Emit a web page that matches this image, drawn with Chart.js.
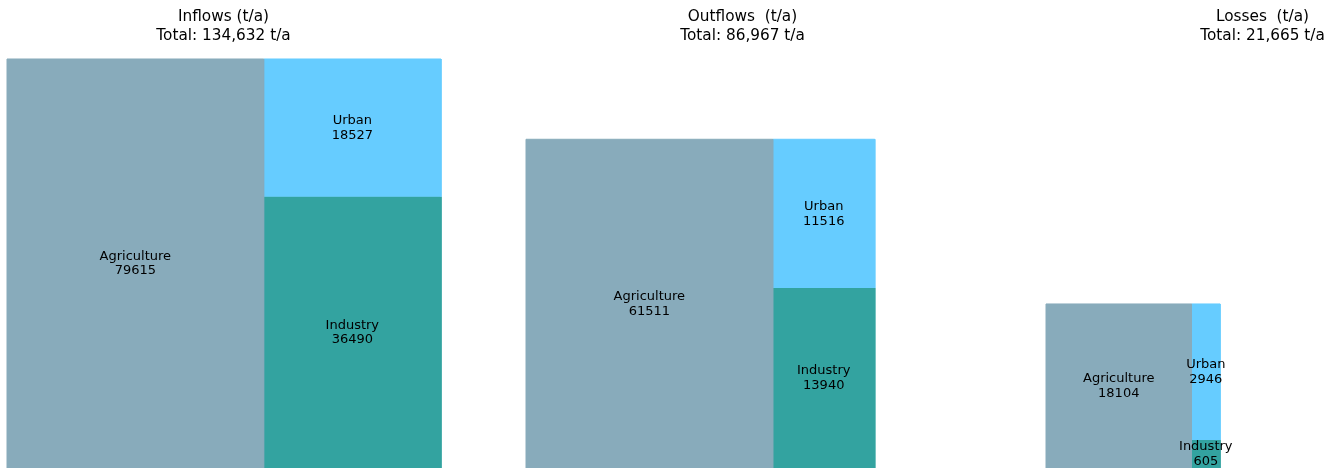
<!DOCTYPE html>
<html>
<head>
<meta charset="utf-8">
<script src="https://cdn.jsdelivr.net/npm/chart.js@4/dist/chart.umd.min.js"></script>
<style>
  html, body { margin: 0; padding: 0; background: #ffffff; }
  #wrap { width: 1337px; height: 468px; position: relative; }
</style>
</head>
<body>
<div id="wrap"><canvas id="c"></canvas></div>
<script>
// ---- data ----
const groups = ['Inflows', 'Outflows', 'Losses'];
const titleLines = ['Inflows (t/a)', 'Outflows  (t/a)', 'Losses  (t/a)'];
const totalLabels = ['Total: 134,632 t/a', 'Total: 86,967 t/a', 'Total: 21,665 t/a'];
const categories = ['Agriculture', 'Urban', 'Industry'];
const inflows = [79615, 18527, 36490];
const outflows = [61511, 11516, 13940];
const losses = [18104, 2946, 605];

// ---- styling / layout (not data) ----
const colors = ['#88abbb', '#66ccff', '#33a3a0'];
const groupValues = [inflows, outflows, losses];
const groupLeft = [7, 526, 1046];     // left edge of each treemap in axis units
const titleOffset = 216.5;            // title centre relative to left edge
const areaPerUnit = 1.31845;          // px^2 per t/a
const aspect = 1.0611;                // width / height of each treemap

// treemap layout: first category takes a full-height column,
// remaining categories stacked in a second column
const rects = [];
groupValues.forEach((vals, g) => {
  const total = vals.reduce((a, b) => a + b, 0);
  const H = Math.sqrt(total * areaPerUnit / aspect);
  const W = H * aspect;
  const x0 = groupLeft[g];
  const wA = W * vals[0] / total;
  rects.push({ g, i: 0, x0: x0, x1: x0 + wA, y0: 0, y1: H, v: vals[0] });
  const rest = vals.slice(1).reduce((a, b) => a + b, 0);
  let top = H;
  for (let i = 1; i < vals.length; i++) {
    const h = H * vals[i] / rest;
    rects.push({ g, i, x0: x0 + wA, x1: x0 + W, y0: top - h, y1: top, v: vals[i] });
    top -= h;
  }
});

const datasets = rects.map(r => ({
  type: 'line',
  label: groups[r.g] + ' ' + categories[r.i],
  data: [{ x: r.x0, y: r.y0 }, { x: r.x0, y: r.y1 }, { x: r.x1, y: r.y1 }, { x: r.x1, y: r.y0 }],
  fill: { value: r.y0 },
  backgroundColor: colors[r.i],
  borderColor: colors[r.i],
  borderWidth: 1,
  pointRadius: 0,
  tension: 0
}));

const textPlugin = {
  id: 'textPlugin',
  afterDatasetsDraw(chart) {
    const ctx = chart.ctx;
    const xs = chart.scales.x, ys = chart.scales.y;
    ctx.save();
    ctx.fillStyle = '#000000';
    ctx.textAlign = 'center';
    ctx.textBaseline = 'middle';
    ctx.font = '13px "DejaVu Sans"';
    rects.forEach(r => {
      const cx = xs.getPixelForValue((r.x0 + r.x1) / 2);
      const cy = ys.getPixelForValue((r.y0 + r.y1) / 2);
      ctx.fillText(categories[r.i], cx, cy - 7);
      ctx.fillText(String(r.v), cx, cy + 7.5);
    });
    ctx.font = '15.3px "DejaVu Sans"';
    groups.forEach((name, g) => {
      const cx = xs.getPixelForValue(groupLeft[g] + titleOffset);
      ctx.fillText(titleLines[g], cx, 17);
      ctx.fillText(totalLabels[g], cx, 36);
    });
    ctx.restore();
  }
};

new Chart(document.getElementById('c'), {
  type: 'scatter',
  data: { datasets },
  options: {
    responsive: true,
    maintainAspectRatio: false,
    animation: false,
    layout: { padding: 0 },
    plugins: { legend: { display: false }, tooltip: { enabled: false }, title: { display: false } },
    scales: {
      x: { type: 'linear', min: 0, max: 1337, display: false },
      y: { type: 'linear', min: 0, max: 468, display: false }
    }
  },
  plugins: [textPlugin]
});
</script>
</body>
</html>
